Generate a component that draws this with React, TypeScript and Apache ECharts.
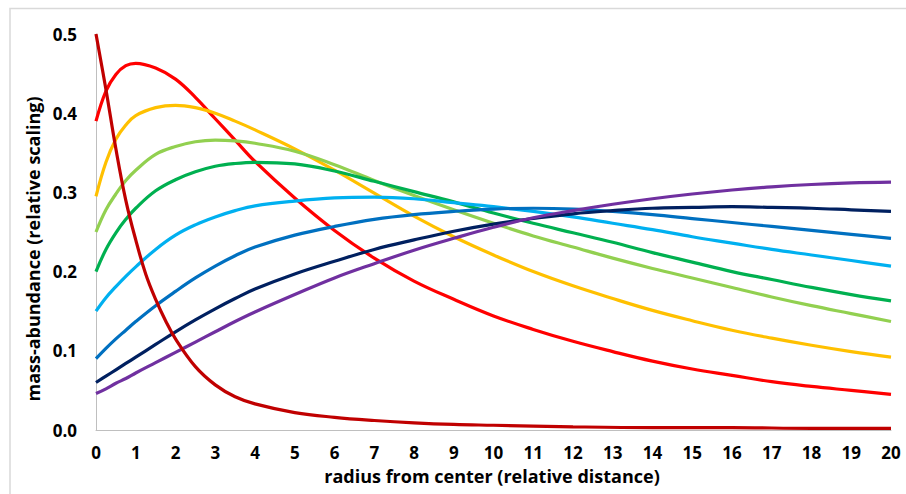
import React, { useEffect, useRef } from "react";
import * as echarts from "echarts";

// x positions shared by the broad curves
const xs = [0, 0.25, 0.5, 0.75, 1, 1.5, 2, 2.5, 3, 3.5, 4, 5, 6, 7, 8, 9, 10, 11, 12, 13, 14, 15, 16, 17, 18, 19, 20];
// x positions for the steep central curve
const xsCore = [0, 0.25, 0.5, 0.75, 1, 1.25, 1.5, 1.75, 2, 2.5, 3, 3.5, 4, 5, 6, 7, 8, 9, 10, 12, 14, 16, 18, 20];

const coreVals = [0.5, 0.43, 0.355, 0.29, 0.24, 0.197, 0.165, 0.138, 0.115, 0.08, 0.057, 0.042, 0.033, 0.022, 0.016, 0.012, 0.009, 0.007, 0.006, 0.004, 0.003, 0.003, 0.002, 0.002];
const redVals = [0.39, 0.428, 0.449, 0.46, 0.463, 0.457, 0.443, 0.42, 0.393, 0.366, 0.339, 0.293, 0.252, 0.217, 0.188, 0.165, 0.144, 0.127, 0.112, 0.099, 0.087, 0.077, 0.069, 0.061, 0.055, 0.05, 0.045];
const orangeVals = [0.295, 0.338, 0.367, 0.385, 0.397, 0.407, 0.41, 0.407, 0.4, 0.39, 0.379, 0.355, 0.328, 0.299, 0.27, 0.244, 0.221, 0.2, 0.182, 0.166, 0.151, 0.138, 0.126, 0.116, 0.107, 0.099, 0.092];
const lightGreenVals = [0.25, 0.278, 0.298, 0.315, 0.328, 0.348, 0.358, 0.364, 0.366, 0.365, 0.362, 0.352, 0.335, 0.315, 0.296, 0.278, 0.261, 0.245, 0.231, 0.217, 0.204, 0.192, 0.18, 0.168, 0.157, 0.147, 0.137];
const greenVals = [0.2, 0.228, 0.249, 0.266, 0.28, 0.302, 0.316, 0.326, 0.333, 0.3365, 0.338, 0.336, 0.327, 0.314, 0.301, 0.288, 0.274, 0.261, 0.249, 0.237, 0.224, 0.212, 0.2, 0.19, 0.18, 0.171, 0.163];
const lightBlueVals = [0.15, 0.167, 0.181, 0.194, 0.206, 0.228, 0.246, 0.259, 0.269, 0.277, 0.283, 0.289, 0.293, 0.294, 0.292, 0.287, 0.282, 0.276, 0.269, 0.261, 0.253, 0.244, 0.236, 0.228, 0.221, 0.214, 0.207];
const midBlueVals = [0.09, 0.103, 0.115, 0.126, 0.137, 0.157, 0.175, 0.192, 0.207, 0.22, 0.231, 0.246, 0.257, 0.266, 0.272, 0.276, 0.279, 0.28, 0.279, 0.276, 0.272, 0.267, 0.262, 0.257, 0.252, 0.247, 0.242];
const navyVals = [0.06, 0.068, 0.076, 0.084, 0.092, 0.108, 0.124, 0.139, 0.153, 0.166, 0.178, 0.197, 0.213, 0.228, 0.24, 0.251, 0.26, 0.267, 0.273, 0.277, 0.28, 0.281, 0.282, 0.281, 0.28, 0.278, 0.276];
const purpleVals = [0.046, 0.052, 0.059, 0.065, 0.072, 0.085, 0.098, 0.111, 0.124, 0.137, 0.149, 0.171, 0.192, 0.21, 0.227, 0.242, 0.256, 0.268, 0.277, 0.285, 0.292, 0.298, 0.303, 0.307, 0.31, 0.312, 0.313];

const xTitle = "radius from center (relative distance)";
const yTitle = "mass-abundance (relative scaling)";

const seriesDefs = [
  { name: "s2", color: "#FF0000", x: xs, y: redVals },
  { name: "s3", color: "#FFC000", x: xs, y: orangeVals },
  { name: "s4", color: "#92D050", x: xs, y: lightGreenVals },
  { name: "s5", color: "#00B050", x: xs, y: greenVals },
  { name: "s6", color: "#00B0F0", x: xs, y: lightBlueVals },
  { name: "s7", color: "#0070C0", x: xs, y: midBlueVals },
  { name: "s8", color: "#002060", x: xs, y: navyVals },
  { name: "s9", color: "#7030A0", x: xs, y: purpleVals },
  { name: "s1", color: "#C00000", x: xsCore, y: coreVals },
];

const FONT = "'Open Sans', 'Noto Sans', sans-serif";

export default function App() {
  const ref = useRef<HTMLDivElement>(null);
  useEffect(() => {
    if (!ref.current) return;
    const chart = echarts.init(ref.current, null, { renderer: "svg" });
    chart.setOption({
      animation: false,
      backgroundColor: "#ffffff",
      grid: { left: 96, right: 15, top: 34, bottom: 64, containLabel: false },
      graphic: [
        {
          type: "rect",
          shape: { x: 10, y: 8.5, width: 1000, height: 1000 },
          style: { fill: "none", stroke: "#d9d9d9", lineWidth: 1.5 },
          silent: true,
        },
        {
          type: "text",
          x: 492,
          y: 476,
          style: {
            text: xTitle,
            fontFamily: FONT,
            fontSize: 18,
            fontWeight: "bold",
            fill: "#000",
            align: "center",
            verticalAlign: "middle",
          },
          silent: true,
        },
        {
          type: "text",
          x: 33,
          y: 249,
          rotation: Math.PI / 2,
          style: {
            text: yTitle,
            fontFamily: FONT,
            fontSize: 18,
            fontWeight: "bold",
            fill: "#000",
            align: "center",
            verticalAlign: "middle",
          },
          silent: true,
        },
      ],
      xAxis: {
        type: "value",
        min: 0,
        max: 20,
        interval: 1,
        axisLine: { show: true, lineStyle: { color: "#bfbfbf", width: 1 } },
        axisTick: { show: false },
        splitLine: { show: false },
        axisLabel: { fontFamily: FONT, fontSize: 17, fontWeight: "bold", color: "#000", margin: 14 },
      },
      yAxis: {
        type: "value",
        min: 0,
        max: 0.5,
        interval: 0.1,
        axisLine: { show: true, lineStyle: { color: "#bfbfbf", width: 1 } },
        axisTick: { show: false },
        splitLine: { show: false },
        axisLabel: {
          fontFamily: FONT,
          fontSize: 17,
          fontWeight: "bold",
          color: "#000",
          margin: 19,
          formatter: (v: number) => v.toFixed(1),
        },
      },
      series: seriesDefs.map((s) => ({
        name: s.name,
        type: "line",
        smooth: 0.4,
        symbol: "none",
        clip: false,
        lineStyle: { color: s.color, width: 3.2 },
        itemStyle: { color: s.color },
        data: s.x.map((x, i) => [x, s.y[i]]),
      })),
    });
    return () => chart.dispose();
  }, []);
  return (
    <div
      ref={ref}
      style={{ position: "absolute", left: 0, top: 0, width: 906, height: 494 }}
    />
  );
}
